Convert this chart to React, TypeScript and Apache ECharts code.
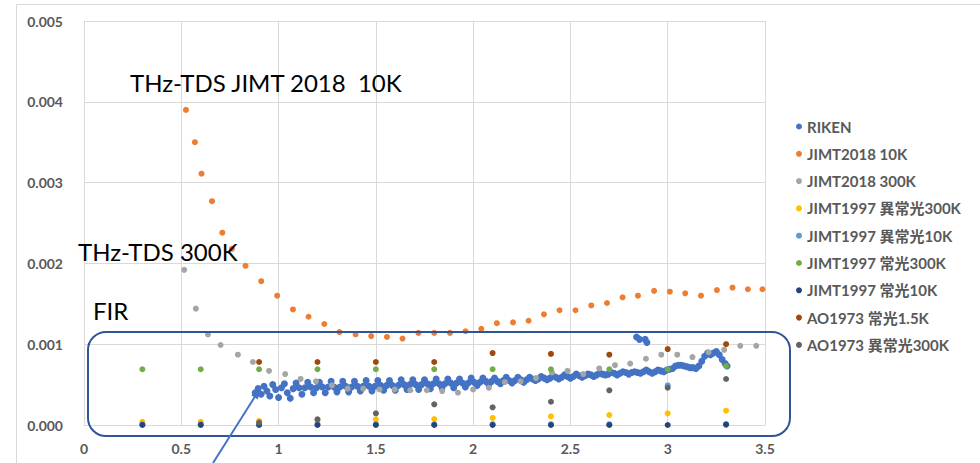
import React, { useEffect, useRef } from "react";
import * as echarts from "echarts";

const sparseX = [0.3, 0.6, 0.9, 1.2, 1.5, 1.8, 2.1, 2.4, 2.7, 3.0, 3.3];

const riken: [number, number][] = [
  [0.88, 0.0004], [0.895, 0.00045], [0.91, 0.00038], [0.925, 0.00048], [0.94, 0.00042],
  [0.955, 0.00036], [0.97, 0.0005], [0.985, 0.00044], [1.0, 0.00034], [1.015, 0.00046],
  [1.03, 0.00051], [1.045, 0.0004], [1.06, 0.00033], [1.075, 0.00045], [1.09, 0.00052],
  [1.105, 0.00046], [1.12, 0.00038], [1.135, 0.00046], [1.15, 0.00053], [1.165, 0.00047],
  [1.18, 0.0004], [1.195, 0.00046], [1.21, 0.00053], [1.225, 0.00047], [1.24, 0.0004],
  [1.255, 0.00047], [1.27, 0.00054], [1.285, 0.00047], [1.3, 0.00041], [1.315, 0.00047],
  [1.33, 0.00054], [1.345, 0.00048], [1.36, 0.00041], [1.375, 0.00047], [1.39, 0.00054],
  [1.405, 0.00048], [1.42, 0.00042], [1.435, 0.00048], [1.45, 0.00055], [1.465, 0.00048],
  [1.48, 0.00042], [1.495, 0.00048], [1.51, 0.00055], [1.525, 0.00049], [1.54, 0.00043],
  [1.555, 0.00049], [1.57, 0.00055], [1.585, 0.00049], [1.6, 0.00043], [1.615, 0.00049],
  [1.63, 0.00056], [1.645, 0.0005], [1.66, 0.00044], [1.675, 0.0005], [1.69, 0.00056],
  [1.705, 0.0005], [1.72, 0.00044], [1.735, 0.0005], [1.75, 0.00056], [1.765, 0.00051],
  [1.78, 0.00045], [1.795, 0.00051], [1.81, 0.00057], [1.825, 0.00051], [1.84, 0.00046],
  [1.855, 0.00051], [1.87, 0.00057], [1.885, 0.00052], [1.9, 0.00046], [1.915, 0.00052],
  [1.93, 0.00057], [1.945, 0.00052], [1.96, 0.00047], [1.975, 0.00052], [1.99, 0.00058],
  [2.005, 0.00053], [2.02, 0.00049], [2.035, 0.00053], [2.05, 0.00058], [2.065, 0.00054],
  [2.08, 0.0005], [2.095, 0.00054], [2.11, 0.00058], [2.125, 0.00054], [2.14, 0.00051],
  [2.155, 0.00055], [2.17, 0.00059], [2.185, 0.00055], [2.2, 0.00052], [2.215, 0.00055],
  [2.23, 0.00059], [2.245, 0.00056], [2.26, 0.00053], [2.275, 0.00056], [2.29, 0.00059],
  [2.305, 0.00057], [2.32, 0.00055], [2.335, 0.00057], [2.35, 0.0006], [2.365, 0.00058],
  [2.38, 0.00056], [2.395, 0.00058], [2.41, 0.00061], [2.425, 0.00059], [2.44, 0.00057],
  [2.455, 0.00059], [2.47, 0.00062], [2.485, 0.0006], [2.5, 0.00058], [2.515, 0.0006],
  [2.53, 0.00063], [2.545, 0.00061], [2.56, 0.00059], [2.575, 0.00061], [2.59, 0.00063],
  [2.605, 0.00062], [2.62, 0.0006], [2.635, 0.00062], [2.65, 0.00064], [2.665, 0.00063],
  [2.68, 0.00062], [2.695, 0.00063], [2.71, 0.00065], [2.725, 0.00064], [2.74, 0.00062],
  [2.755, 0.00064], [2.77, 0.00066], [2.785, 0.00065], [2.8, 0.00063], [2.815, 0.00065],
  [2.83, 0.00066], [2.845, 0.00065], [2.86, 0.00064], [2.875, 0.00066], [2.89, 0.00068],
  [2.905, 0.00066], [2.92, 0.00064], [2.935, 0.00066], [2.95, 0.00068], [2.965, 0.00067],
  [2.98, 0.00066], [2.995, 0.00068], [3.01, 0.00069], [3.025, 0.0007], [3.04, 0.00073],
  [3.055, 0.00074], [3.07, 0.00074], [3.085, 0.00073], [3.1, 0.00072], [3.115, 0.00071],
  [3.13, 0.00071], [3.145, 0.0007], [3.16, 0.00073], [3.175, 0.00079], [3.19, 0.00085],
  [3.205, 0.00089], [3.22, 0.00087], [3.235, 0.00089], [3.25, 0.00091], [3.265, 0.00087],
  [3.28, 0.00081], [3.295, 0.00076], [3.305, 0.00073],
  [2.84, 0.00109], [2.855, 0.00106], [2.884, 0.00106], [2.893, 0.00102],
];

const jimt2018_10K: [number, number][] = [
  [0.524, 0.0039], [0.57, 0.0035], [0.604, 0.00311], [0.658, 0.00277], [0.711, 0.00238],
  [0.76, 0.00218], [0.83, 0.00197], [0.911, 0.00178], [0.993, 0.0016], [1.074, 0.00143],
  [1.154, 0.00134], [1.235, 0.00125], [1.313, 0.00115], [1.396, 0.00112], [1.476, 0.0011],
  [1.557, 0.00109], [1.637, 0.00107], [1.719, 0.00114], [1.8, 0.00114], [1.881, 0.00114],
  [1.961, 0.00116], [2.042, 0.00119], [2.122, 0.00126], [2.205, 0.00127], [2.285, 0.00129],
  [2.364, 0.00137], [2.444, 0.00142], [2.526, 0.00142], [2.607, 0.00148], [2.688, 0.00151],
  [2.768, 0.00158], [2.847, 0.0016], [2.93, 0.00166], [3.011, 0.00165], [3.09, 0.00163],
  [3.171, 0.0016], [3.253, 0.00167], [3.333, 0.0017], [3.412, 0.00168], [3.487, 0.00168],
];

const jimt2018_300K: [number, number][] = [
  [0.515, 0.00192], [0.575, 0.00144], [0.637, 0.00112], [0.702, 0.00099], [0.791, 0.00087],
  [0.868, 0.00078], [0.951, 0.00067], [1.034, 0.00063], [1.113, 0.00057], [1.192, 0.00054],
  [1.274, 0.00049], [1.355, 0.00045], [1.435, 0.00045], [1.519, 0.00044], [1.597, 0.00044],
  [1.677, 0.00043], [1.762, 0.00043], [1.841, 0.00042], [1.922, 0.0004], [2.0, 0.00044],
  [2.081, 0.00046], [2.163, 0.00053], [2.244, 0.00054], [2.323, 0.00058], [2.405, 0.00065],
  [2.485, 0.00067], [2.566, 0.00063], [2.648, 0.0007], [2.729, 0.00074], [2.807, 0.00076],
  [2.888, 0.00082], [2.967, 0.00087], [3.049, 0.00087], [3.127, 0.00084], [3.21, 0.0009],
  [3.29, 0.00093], [3.373, 0.00098], [3.455, 0.00098],
];

const jimt1997_e300K = [0.00004, 0.00004, 0.00005, 0.00006, 0.00007, 0.000074, 0.000087, 0.000107, 0.000124, 0.000145, 0.000177];
const jimt1997_e10K = [0.00001, 0.00001, 0.00001, 0.00001, 0.00001, 0.00001, 0.00001, 0.00001, 0.00001, 0.00049, 0.00001];
const jimt1997_o300K = [0.00069, 0.00069, 0.00069, 0.00069, 0.00069, 0.00069, 0.00069, 0.00069, 0.00069, 0.00069, 0.00073];
const jimt1997_o10K = [0, 0, 0, 0, 0, 0, 0, 0, 0, 0, 0.000005];
const ao1973_o15K: (number | null)[] = [null, null, 0.00078, 0.00078, 0.00078, 0.00078, 0.00089, 0.00088, 0.00087, 0.00094, 0.001];
const ao1973_e300K: (number | null)[] = [null, null, 0.00003, 0.00007, 0.000145, 0.000256, 0.000219, 0.000288, 0.000429, 0.000461, 0.000569];

const seriesNames = [
  "RIKEN",
  "JIMT2018 10K",
  "JIMT2018 300K",
  "JIMT1997 異常光300K",
  "JIMT1997 異常光10K",
  "JIMT1997 常光300K",
  "JIMT1997 常光10K",
  "AO1973 常光1.5K",
  "AO1973 異常光300K",
];
const colors = ["#4472C4", "#ED7D31", "#A5A5A5", "#FFC000", "#5B9BD5", "#70AD47", "#264478", "#9E480E", "#636363"];

const FONT = "Lato, 'Noto Sans CJK JP', 'Noto Sans', sans-serif";

function pairs(vals: (number | null)[]) {
  return sparseX.map((x, i) => [x, vals[i]]).filter((p) => p[1] !== null);
}

export default function App() {
  const ref = useRef<HTMLDivElement>(null);
  useEffect(() => {
    document.body.style.margin = "0";
    if (!ref.current) return;
    const chart = echarts.init(ref.current, undefined, { renderer: "svg" });
    const datasets: any[] = [
      riken,
      jimt2018_10K,
      jimt2018_300K,
      pairs(jimt1997_e300K),
      pairs(jimt1997_e10K),
      pairs(jimt1997_o300K),
      pairs(jimt1997_o10K),
      pairs(ao1973_o15K),
      pairs(ao1973_e300K),
    ];
    const tipX = 260, tipY = 389;
    chart.setOption({
      animation: false,
      backgroundColor: "#ffffff",
      grid: { left: 84, top: 21, width: 681, height: 404, containLabel: false },
      xAxis: {
        type: "value",
        min: 0,
        max: 3.5,
        interval: 0.5,
        axisLine: { show: true, lineStyle: { color: "#d9d9d9", width: 1 } },
        axisTick: { show: false },
        splitLine: { show: true, lineStyle: { color: "#d9d9d9", width: 1 } },
        axisLabel: { color: "#595959", fontSize: 14, fontWeight: "bold", fontFamily: FONT, margin: 16 },
      },
      yAxis: {
        type: "value",
        min: 0,
        max: 0.005,
        interval: 0.001,
        axisLine: { show: true, lineStyle: { color: "#d9d9d9", width: 1 } },
        axisTick: { show: false },
        splitLine: { show: true, lineStyle: { color: "#d9d9d9", width: 1 } },
        axisLabel: {
          color: "#595959",
          fontSize: 14,
          fontWeight: "bold",
          fontFamily: FONT,
          margin: 21,
          formatter: (v: number) => v.toFixed(3),
        },
      },
      legend: {
        orient: "vertical",
        left: 791,
        top: 114,
        icon: "circle",
        itemWidth: 6,
        itemHeight: 6,
        itemGap: 12.3,
        data: seriesNames,
        textStyle: { color: "#595959", fontSize: 15, fontWeight: "bold", fontFamily: FONT, lineHeight: 15 },
      },
      series: seriesNames.map((name, i) => ({
        name,
        type: "scatter",
        data: datasets[i],
        symbol: "circle",
        symbolSize: i === 0 ? 7 : 6,
        itemStyle: { color: colors[i], opacity: 1 },
        z: 2 + i,
      })),
      graphic: [
        { type: "line", shape: { x1: 16.5, y1: 4.5, x2: 980, y2: 4.5 }, style: { stroke: "#d9d9d9", lineWidth: 1 } },
        { type: "line", shape: { x1: 16.5, y1: 4.5, x2: 16.5, y2: 463 }, style: { stroke: "#d9d9d9", lineWidth: 1 } },
        {
          type: "rect",
          shape: { x: 88, y: 332, width: 702, height: 104, r: 18 },
          style: { stroke: "#2F5597", lineWidth: 2, fill: "none" },
          z: 100,
        },
        {
          type: "line",
          shape: { x1: 213, y1: 463, x2: 256, y2: 395 },
          style: { stroke: "#4472C4", lineWidth: 2 },
          z: 100,
        },
        {
          type: "polygon",
          shape: { points: [[tipX, tipY], [257.9, 399.6], [251.2, 395.2]] },
          style: { fill: "#4472C4" },
          z: 100,
        },
        {
          type: "text",
          left: 130,
          top: 70,
          style: { text: "THz-TDS JIMT 2018  10K", fontSize: 24, fontFamily: FONT, fill: "#000000" },
          z: 100,
        },
        {
          type: "text",
          left: 78,
          top: 239,
          style: { text: "THz-TDS 300K", fontSize: 24, fontFamily: FONT, fill: "#000000" },
          z: 100,
        },
        {
          type: "text",
          left: 93,
          top: 298,
          style: { text: "FIR", fontSize: 24, fontFamily: FONT, fill: "#000000" },
          z: 100,
        },
      ],
    });
    return () => chart.dispose();
  }, []);
  return <div ref={ref} style={{ position: "absolute", left: 0, top: 0, width: 980, height: 463 }} />;
}
